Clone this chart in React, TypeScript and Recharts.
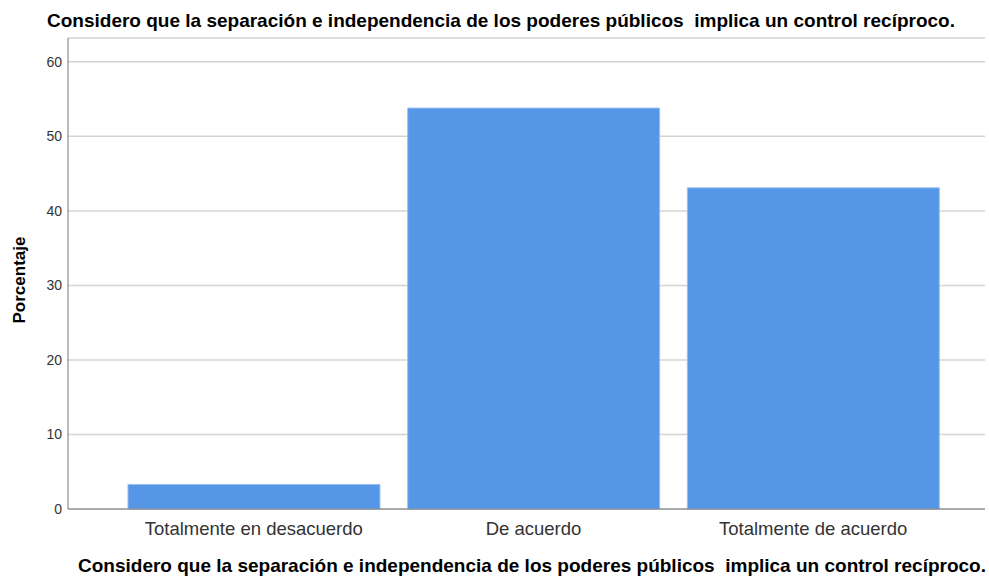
import React from 'react';
import { BarChart, Bar, XAxis, YAxis, CartesianGrid, Label } from 'recharts';

const categories = ['Totalmente en desacuerdo', 'De acuerdo', 'Totalmente de acuerdo'];
const percentages = [3.3, 53.8, 43.1];
const yTicks = [0, 10, 20, 30, 40, 50, 60];
const title = 'Considero que la separación e independencia de los poderes públicos  implica un control recíproco.';

const FONT = '"Liberation Sans", Arial, sans-serif';

const titleStyle: React.CSSProperties = {
  position: 'absolute',
  left: 0,
  width: 1000,
  textAlign: 'center',
  fontWeight: 'bold',
  fontSize: 19,
  lineHeight: '22px',
  color: '#000',
  whiteSpace: 'pre',
};

const App: React.FC = () => {
  const chartData = categories.map((name, i) => ({ name, Porcentaje: percentages[i] }));

  return (
    <div
      style={{
        position: 'fixed',
        top: 0,
        left: 0,
        width: 989,
        height: 578,
        background: '#fff',
        fontFamily: FONT,
        overflow: 'hidden',
      }}
    >
      <BarChart
        width={989}
        height={578}
        data={chartData}
        margin={{ top: 38, right: 4, left: 0, bottom: 0 }}
        barCategoryGap="5%"
      >
        <CartesianGrid horizontal vertical={false} stroke="#d4d4d4" strokeWidth={1.5} />
        <XAxis
          dataKey="name"
          height={69}
          padding={{ left: 46, right: 32 }}
          tickLine={false}
          axisLine={{ stroke: '#777' }}
          tick={{ fontSize: 18.5, fill: '#333', fontFamily: FONT }}
          tickMargin={7}
        />
        <YAxis
          width={68}
          domain={[0, 63.2]}
          ticks={yTicks}
          tickLine={false}
          axisLine={{ stroke: '#777' }}
          tick={{ fontSize: 14, fill: '#333', fontFamily: FONT }}
          tickMargin={0}
        >
          <Label
            content={() => (
              <text
                x={19}
                y={280}
                transform="rotate(-90, 19, 280)"
                textAnchor="middle"
                dominantBaseline="central"
                style={{ fontSize: 17, fontWeight: 'bold', fill: '#000', fontFamily: FONT }}
              >
                Porcentaje
              </text>
            )}
          />
        </YAxis>
        <Bar dataKey="Porcentaje" fill="#5596e6" stroke="#9cc0f0" strokeWidth={1} isAnimationActive={false} />
      </BarChart>
      <div style={{ ...titleStyle, top: 10, left: 1 }}>{title}</div>
      <div style={{ ...titleStyle, top: 555, left: 32 }}>{title}</div>
    </div>
  );
};

export default App;
